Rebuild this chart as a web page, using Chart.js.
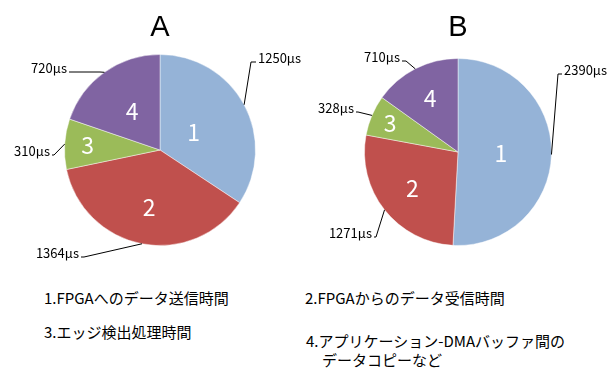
<!DOCTYPE html>
<html>
<head>
<meta charset="utf-8">
<script src="https://cdn.jsdelivr.net/npm/chart.js@4.4.0/dist/chart.umd.min.js"></script>
<style>
  body { margin: 0; background: #fff; }
  #page { position: relative; width: 612px; height: 370px; overflow: hidden; }
  .pie { position: absolute; top: 0; width: 306px; height: 270px; }
  .note {
    position: absolute; font-family: "Noto Sans CJK JP", sans-serif;
    font-size: 15px; line-height: 18px; color: #000; white-space: nowrap;
  }
</style>
</head>
<body>
<div id="page">
  <div class="pie" style="left:0"><canvas id="pieA" width="306" height="270"></canvas></div>
  <div class="pie" style="left:306px"><canvas id="pieB" width="306" height="270"></canvas></div>
  <div class="note" style="left:44px; top:289px">1.FPGAへのデータ送信時間</div>
  <div class="note" style="left:305px; top:289px">2.FPGAからのデータ受信時間</div>
  <div class="note" style="left:44px; top:323px">3.エッジ検出処理時間</div>
  <div class="note" style="left:306px; top:332px">4.アプリケーション-DMAバッファ間の</div>
  <div class="note" style="left:322px; top:351px">データコピーなど</div>
</div>
<script>
// slice numbers and measured times (μs)
const sliceNames = ['1', '2', '3', '4'];
const timesA = [1250, 1364, 310, 720];
const timesB = [2390, 1271, 328, 710];
const unit = 'μs';

const sliceColors = ['#95B3D7', '#C0504D', '#9BBB59', '#8064A2'];

// leader line: [elbow x, elbow y, stub end x] in canvas pixels
const leadersA = [[251, 62, 256], [84, 257, 81], [54, 155, 52], [100, 72, 69]];
const leadersB = [[252, 74, 256], [70, 237, 68], [52, 112, 50], [100, 61, 96]];
// where the slice number sits, as a fraction of the radius
const innerA = [0.40, 0.61, 0.76, 0.50];
const innerB = [0.46, 0.62, 0.79, 0.65];

// title, slice numbers and value labels with leader lines
const pieLabels = {
  id: 'pieLabels',
  afterDatasetsDraw(chart, args, opts) {
    const ctx = chart.ctx;
    const arcs = chart.getDatasetMeta(0).data;
    const values = chart.data.datasets[0].data;
    ctx.save();

    const cx = arcs[0].x;
    ctx.fillStyle = '#000';
    ctx.font = '29px "Liberation Sans", Arial, sans-serif';
    ctx.textAlign = 'center';
    ctx.textBaseline = 'middle';
    ctx.fillText(opts.title, cx, 28);

    arcs.forEach((arc, i) => {
      const mid = (arc.startAngle + arc.endAngle) / 2;
      const r = arc.outerRadius;

      // number inside the slice
      ctx.fillStyle = '#fff';
      ctx.font = '23px "Noto Sans CJK JP", sans-serif';
      ctx.textAlign = 'center';
      ctx.textBaseline = 'middle';
      const f = opts.inner[i];
      ctx.fillText(chart.data.labels[i], arc.x + Math.cos(mid) * r * f, arc.y + Math.sin(mid) * r * f);

      // leader line from the rim to the value label
      const [ex, ey, sx] = opts.leaders[i];
      ctx.strokeStyle = '#000';
      ctx.lineWidth = 1;
      ctx.beginPath();
      ctx.moveTo(arc.x + Math.cos(mid) * r, arc.y + Math.sin(mid) * r);
      ctx.lineTo(ex, ey);
      ctx.lineTo(sx, ey);
      ctx.stroke();

      const right = sx > ex;
      ctx.fillStyle = '#000';
      ctx.font = '13px "Noto Sans CJK JP", sans-serif';
      ctx.textAlign = right ? 'left' : 'right';
      ctx.fillText(values[i] + unit, right ? sx + 2 : sx - 2, ey - 4);
    });
    ctx.restore();
  }
};

function makePie(id, title, values, leaders, inner, padding) {
  new Chart(document.getElementById(id), {
    type: 'pie',
    data: {
      labels: sliceNames,
      datasets: [{
        data: values,
        backgroundColor: sliceColors,
        borderColor: 'rgba(255, 255, 255, 0.45)',
        borderWidth: 1,
        hoverOffset: 0
      }]
    },
    options: {
      responsive: false,
      animation: false,
      events: [],
      layout: { padding: padding },
      plugins: {
        legend: { display: false },
        tooltip: { enabled: false },
        title: { display: false },
        pieLabels: { title: title, leaders: leaders, inner: inner }
      }
    },
    plugins: [pieLabels]
  });
}

makePie('pieA', 'A', timesA, leadersA, innerA, { top: 54, bottom: 24, left: 64, right: 50 });
makePie('pieB', 'B', timesB, leadersB, innerB, { top: 58, bottom: 24, left: 58, right: 60 });
</script>
</body>
</html>
